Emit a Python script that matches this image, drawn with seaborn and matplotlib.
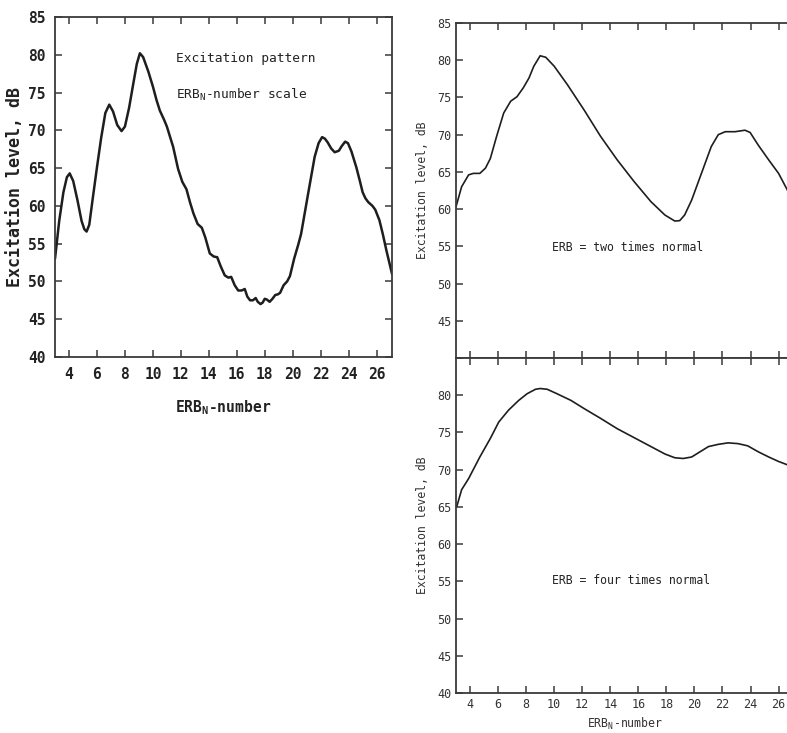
import matplotlib
matplotlib.use("Agg")
import matplotlib.pyplot as plt
import seaborn as sns
import pandas as pd

# ---- data ----
normal_x = [3.0, 3.3, 3.6, 3.85, 4.05, 4.3, 4.6, 4.9, 5.1, 5.26, 5.45, 5.7, 6.0, 6.3, 6.6, 6.88,
            7.15, 7.45, 7.76, 8.0, 8.3, 8.6, 8.85, 9.07, 9.3, 9.67, 10.0, 10.26, 10.5, 10.8, 11.0,
            11.25, 11.45, 11.8, 12.1, 12.4, 12.65, 12.9, 13.2, 13.5, 13.75, 14.07, 14.35, 14.6,
            14.85, 15.14, 15.4, 15.6, 15.85, 16.1, 16.35, 16.57, 16.75, 16.95, 17.15, 17.35, 17.5,
            17.7, 17.85, 18.0, 18.15, 18.35, 18.55, 18.75, 18.95, 19.1, 19.35, 19.6, 19.8, 20.1,
            20.4, 20.6, 21.1, 21.57, 21.85, 22.1, 22.3, 22.5, 22.75, 23.0, 23.3, 23.5, 23.75, 23.95,
            24.2, 24.55, 24.8, 25.0, 25.2, 25.4, 25.7, 25.9, 26.2, 26.45, 26.7, 27.1]
normal_y = [53.0, 58.0, 61.8, 63.8, 64.3, 63.3, 60.8, 58.0, 56.9, 56.6, 57.5, 61.0, 65.1, 69.0, 72.3, 73.4,
            72.5, 70.7, 69.9, 70.5, 73.0, 76.2, 78.8, 80.2, 79.7, 77.8, 75.8, 74.0, 72.6, 71.4, 70.5,
            69.0, 67.8, 64.9, 63.2, 62.2, 60.5, 59.0, 57.6, 57.1, 55.8, 53.7, 53.3, 53.2,
            52.0, 50.8, 50.5, 50.6, 49.5, 48.8, 48.8, 49.0, 48.0, 47.5, 47.5, 47.8, 47.3,
            47.0, 47.2, 47.7, 47.6, 47.3, 47.7, 48.2, 48.3, 48.5, 49.5, 50.0, 50.7, 53.0,
            54.9, 56.3, 61.6, 66.5, 68.3, 69.1, 68.9, 68.4, 67.6, 67.1, 67.3, 67.9, 68.5, 68.3,
            67.2, 65.1, 63.3, 61.8, 61.0, 60.5, 60.0, 59.5, 58.1, 56.2, 54.1, 51.0]

two_x = [3.0, 3.4, 3.9, 4.24, 4.7, 5.1, 5.45, 5.9, 6.4, 6.9, 7.35, 7.8, 8.2, 8.55, 9.0, 9.4, 10.0,
         10.95, 12.14, 13.3, 14.5, 15.7, 16.9, 17.9, 18.6, 18.95, 19.3, 19.8, 20.5, 21.2, 21.7,
         22.2, 22.9, 23.6, 23.97, 24.55, 25.3, 26.0, 26.7, 27.1]
two_y = [60.3, 63.0, 64.6, 64.8, 64.8, 65.5, 66.8, 69.8, 72.9, 74.5, 75.1, 76.3, 77.6, 79.2, 80.6, 80.4, 79.2,
         76.7, 73.3, 69.8, 66.6, 63.7, 61.0, 59.2, 58.4, 58.45, 59.2, 61.2, 64.8, 68.4, 70.0,
         70.4, 70.4, 70.6, 70.3, 68.6, 66.6, 64.8, 62.3, 60.8]

four_x = [3.05, 3.4, 3.9, 4.7, 5.45, 6.05, 6.75, 7.47, 8.07, 8.67, 9.0, 9.5, 10.2, 11.2, 12.14, 13.3,
          14.5, 15.7, 16.9, 17.9, 18.6, 19.2, 19.8, 20.4, 21.0, 21.7, 22.4, 23.1, 23.8, 24.55,
          25.3, 26.0, 26.7, 27.1]
four_y = [65.0, 67.3, 68.8, 71.7, 74.2, 76.4, 78.0, 79.3, 80.2, 80.8, 80.9, 80.8, 80.2, 79.3, 78.2, 76.9,
          75.5, 74.3, 73.1, 72.1, 71.6, 71.5, 71.7, 72.4, 73.1, 73.4, 73.6, 73.5, 73.2, 72.4,
          71.7, 71.1, 70.6, 70.2]

x_ticks = [4, 6, 8, 10, 12, 14, 16, 18, 20, 22, 24, 26]
y_ticks = [40, 45, 50, 55, 60, 65, 70, 75, 80, 85]

# ---- style ----
sns.set_theme(style="ticks")
plt.rcParams["font.family"] = ["DejaVu Sans Mono", "DejaVu Sans"]
spine_col = "#3a3a3a"
line_col = "#1e1e1e"

fig = plt.figure(figsize=(7.87, 7.33), dpi=100)
fig.patch.set_facecolor("white")

ax1 = fig.add_axes([0.0699, 0.5130, 0.4282, 0.4638])
ax2 = fig.add_axes([0.5794, 0.5116, 0.4295, 0.4570])
ax3 = fig.add_axes([0.5794, 0.0546, 0.4295, 0.4570])

df1 = pd.DataFrame({"x": normal_x, "y": normal_y})
df2 = pd.DataFrame({"x": two_x, "y": two_y})
df3 = pd.DataFrame({"x": four_x, "y": four_y})

sns.lineplot(data=df1, x="x", y="y", ax=ax1, color=line_col, linewidth=1.8, sort=False)
sns.lineplot(data=df2, x="x", y="y", ax=ax2, color=line_col, linewidth=1.2, sort=False)
sns.lineplot(data=df3, x="x", y="y", ax=ax3, color=line_col, linewidth=1.2, sort=False)

for ax in (ax1, ax2, ax3):
    ax.set_xlim(3, 27.1)
    ax.set_ylim(40, 85)
    ax.set_xticks(x_ticks)
    ax.set_yticks(y_ticks)
    for s in ax.spines.values():
        s.set_visible(True)
        s.set_color(spine_col)
        s.set_linewidth(1.3)
    ax.tick_params(direction="in", length=5, width=1.1, color=spine_col,
                   top=True, right=True, bottom=True, left=True)
    ax.set_facecolor("white")

# left panel
ax1.tick_params(labelsize=10.5, labelcolor="#222222", pad=7)
for lab in ax1.get_xticklabels() + ax1.get_yticklabels():
    lab.set_fontweight("bold")
ax1.set_xlabel("ERB$_{\\mathregular{N}}$-number", fontsize=10.5, fontweight="bold", color="#222222", labelpad=12)
ax1.set_ylabel("Excitation level, dB", fontsize=12, fontweight="bold", color="#222222")
ax1.yaxis.set_label_coords(-0.092, 0.5)
ax1.text(0.36, 0.868, "Excitation pattern", transform=ax1.transAxes, fontsize=9.3,
         color="#222222")
ax1.text(0.36, 0.758, "ERB$_{\\mathregular{N}}$-number scale", transform=ax1.transAxes, fontsize=9.3,
         color="#222222")

# right top
ax2.tick_params(labelsize=8.5, labelcolor="#333333")
ax2.set_xticklabels([])
ax2.set_yticks(y_ticks)
ax2.set_yticklabels(["" if v == 40 else str(v) for v in y_ticks])
ax2.set_xlabel("")
ax2.set_ylabel("Excitation level, dB", fontsize=8.3, color="#333333", labelpad=6)
ax2.text(0.285, 0.32, "ERB = two times normal", transform=ax2.transAxes, fontsize=8.3, color="#222222")

# right bottom
ax3.tick_params(labelsize=8.5, labelcolor="#333333")
ax3.set_yticklabels(["" if v == 85 else str(v) for v in y_ticks])
ax3.set_xlabel("ERB$_{\\mathregular{N}}$-number", fontsize=8.3, color="#333333", labelpad=4)
ax3.set_ylabel("Excitation level, dB", fontsize=8.3, color="#333333", labelpad=6)
ax3.text(0.285, 0.325, "ERB = four times normal", transform=ax3.transAxes, fontsize=8.3, color="#222222")

fig.savefig("out.png", dpi=100, facecolor="white")
